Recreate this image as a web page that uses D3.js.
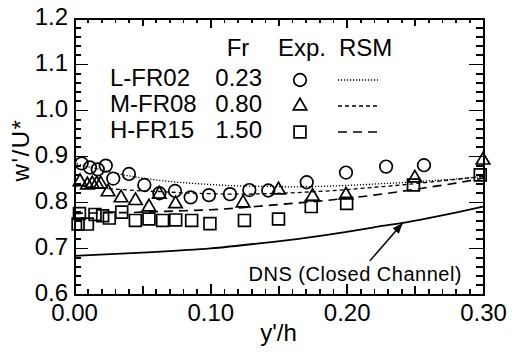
<!DOCTYPE html>
<html lang="en">
<head>
<meta charset="utf-8">
<title>w'/U* vs y'/h</title>
<script src="https://cdn.jsdelivr.net/npm/d3@7"></script>
<style>
  body { margin: 0; background: #fff; }
  svg text { font-family: "Liberation Sans", Arial, Helvetica, sans-serif; fill: #000; }
  .axis path, .axis line { stroke: #000; shape-rendering: crispEdges; }
  .axis path { stroke-width: 2; }
  .axis line { stroke-width: 1.7; }
</style>
</head>
<body>
<script>
// experimental points (Exp.)
var lfr02X = [0.0056, 0.0117, 0.0174, 0.0233, 0.0288, 0.0403, 0.0516, 0.0626, 0.0741, 0.0856, 0.099, 0.1144, 0.1286, 0.1425, 0.1707, 0.1995, 0.2289, 0.2567];
var lfr02Y = [0.884, 0.875, 0.871, 0.879, 0.851, 0.861, 0.837, 0.819, 0.824, 0.810, 0.815, 0.817, 0.826, 0.825, 0.843, 0.864, 0.877, 0.880];

var mfr08X = [0.0044, 0.0098, 0.0134, 0.0167, 0.0196, 0.025, 0.0345, 0.0451, 0.055, 0.0626, 0.0745, 0.124, 0.150, 0.175, 0.1995, 0.250, 0.300];
var mfr08Y = [0.844, 0.837, 0.839, 0.839, 0.839, 0.822, 0.809, 0.803, 0.789, 0.817, 0.796, 0.798, 0.826, 0.812, 0.815, 0.852, 0.891];

var hfr15X = [0.004, 0.003, 0.0098, 0.0154, 0.021, 0.0259, 0.035, 0.045, 0.055, 0.065, 0.0746, 0.0863, 0.0997, 0.125, 0.150, 0.174, 0.200, 0.249, 0.298];
var hfr15Y = [0.775, 0.752, 0.752, 0.773, 0.770, 0.765, 0.778, 0.760, 0.763, 0.760, 0.761, 0.760, 0.753, 0.760, 0.763, 0.790, 0.797, 0.837, 0.859];

// RSM curves
var rsmX = [0.0, 0.01, 0.02, 0.03, 0.04, 0.05, 0.06, 0.08, 0.10, 0.12, 0.14, 0.16, 0.18, 0.20, 0.22, 0.24, 0.26, 0.28, 0.30];
var rsmL = [0.885, 0.877, 0.870, 0.863, 0.857, 0.852, 0.848, 0.842, 0.838, 0.835, 0.834, 0.833, 0.834, 0.836, 0.839, 0.842, 0.846, 0.850, 0.855];
var rsmM = [0.836, 0.833, 0.830, 0.828, 0.826, 0.824, 0.823, 0.820, 0.818, 0.817, 0.818, 0.820, 0.823, 0.827, 0.832, 0.837, 0.843, 0.849, 0.856];
var rsmH = [0.775, 0.776, 0.776, 0.777, 0.777, 0.778, 0.779, 0.781, 0.783, 0.787, 0.792, 0.797, 0.802, 0.808, 0.815, 0.823, 0.832, 0.841, 0.852];

// DNS closed channel
var dnsX = [0.0, 0.05, 0.10, 0.136, 0.17, 0.20, 0.22, 0.24, 0.26, 0.28, 0.30];
var dnsY = [0.683, 0.690, 0.699, 0.710, 0.722, 0.735, 0.745, 0.754, 0.765, 0.777, 0.790];

// legend
var caseNames = ["L-FR02", "M-FR08", "H-FR15"];
var froudes = ["0.23", "0.80", "1.50"];

// ticks
var xMajor = [0.00, 0.10, 0.20, 0.30];
var xLabels = ["0.00", "0.10", "0.20", "0.30"];
var yMajor = [0.6, 0.7, 0.8, 0.9, 1.0, 1.1, 1.2];
var yLabels = ["0.6", "0.7", "0.8", "0.9", "1.0", "1.1", "1.2"];

var w = 521, h = 352;
var padL = 74, padR = 483, padT = 18, padB = 294;

var svg = d3.select("body").append("svg")
	.attr("width", w)
	.attr("height", h);

var xScale = d3.scaleLinear().domain([0, 0.3]).range([padL, padR]);
var yScale = d3.scaleLinear().domain([0.6, 1.2]).range([padB, padT]);

var xMinor = d3.range(0, 31).map(function(i) { return i / 100; });
var xMid = [0.05, 0.15, 0.25];
var yMinor = d3.range(0, 31).map(function(i) { return 0.6 + i * 0.02; });

function addAxis(axis, tx, ty) {
	return svg.append("g")
		.attr("class", "axis")
		.attr("transform", "translate(" + tx + "," + ty + ")")
		.call(axis);
}

// minor ticks (all inward)
addAxis(d3.axisBottom(xScale).tickValues(xMinor).tickSize(-5).tickFormat(""), 0, padB);
addAxis(d3.axisBottom(xScale).tickValues(xMid).tickSize(-8).tickFormat(""), 0, padB);
addAxis(d3.axisTop(xScale).tickValues(xMinor).tickSize(-5).tickFormat(""), 0, padT);
addAxis(d3.axisTop(xScale).tickValues(xMid).tickSize(-8).tickFormat(""), 0, padT);
addAxis(d3.axisTop(xScale).tickValues(xMajor).tickSize(-10).tickFormat(""), 0, padT);
addAxis(d3.axisLeft(yScale).tickValues(yMinor).tickSize(-7).tickFormat(""), padL, 0);
addAxis(d3.axisRight(yScale).tickValues(yMinor).tickSize(-7).tickFormat(""), padR, 0);
addAxis(d3.axisRight(yScale).tickValues(yMajor).tickSize(-14).tickFormat(""), padR, 0);

// labelled axes
var gx = addAxis(d3.axisBottom(xScale).tickValues(xMajor).tickSize(-10).tickPadding(10)
	.tickFormat(function(d, i) { return xLabels[i]; }), 0, padB);
var gy = addAxis(d3.axisLeft(yScale).tickValues(yMajor).tickSize(-14).tickPadding(6)
	.tickFormat(function(d, i) { return yLabels[i]; }), padL, 0);

gx.selectAll("text").style("font-size", "24px").attr("font-size", null).attr("font-family", null);
gy.selectAll("text").style("font-size", "24px").attr("font-size", null).attr("font-family", null);
gy.selectAll("text").attr("dy", "0.26em");

// curves
var line = d3.line()
	.x(function(d) { return xScale(d[0]); })
	.y(function(d) { return yScale(d[1]); })
	.curve(d3.curveMonotoneX);

function zip(xs, ys) { return xs.map(function(x, i) { return [x, ys[i]]; }); }

var styles = [
	{ ys: rsmL, dash: "1.2,1.8", width: 1.3 },
	{ ys: rsmM, dash: "4,3", width: 1.3 },
	{ ys: rsmH, dash: "9,6", width: 1.6 }
];

styles.forEach(function(s) {
	svg.append("path")
		.datum(zip(rsmX, s.ys))
		.attr("d", line)
		.attr("fill", "none")
		.attr("stroke", "#000")
		.attr("stroke-width", s.width)
		.attr("stroke-dasharray", s.dash);
});

svg.append("path")
	.datum(zip(dnsX, dnsY))
	.attr("d", line)
	.attr("fill", "none")
	.attr("stroke", "#000")
	.attr("stroke-width", 1.8);

// markers
var symbols = [d3.symbolCircle, d3.symbolTriangle, d3.symbolSquare];
var sizes = [125, 78, 140];
var seriesX = [lfr02X, mfr08X, hfr15X];
var seriesY = [lfr02Y, mfr08Y, hfr15Y];

seriesX.forEach(function(xs, k) {
	svg.append("g").selectAll("path")
		.data(zip(xs, seriesY[k]))
		.enter()
		.append("path")
		.attr("d", d3.symbol().type(symbols[k]).size(sizes[k]))
		.attr("transform", function(d) { return "translate(" + xScale(d[0]) + "," + yScale(d[1]) + ")"; })
		.attr("fill", "none")
		.attr("stroke", "#000")
		.attr("stroke-width", 1.7);
});

// legend
var legend = svg.append("g").style("font-size", "24px");
legend.append("text").attr("x", 238).attr("y", 56).attr("text-anchor", "middle").text("Fr");
legend.append("text").attr("x", 278).attr("y", 56).text("Exp.");
legend.append("text").attr("x", 339).attr("y", 56).text("RSM");

caseNames.forEach(function(name, i) {
	var yy = 80 + i * 26;
	legend.append("text").attr("x", 110).attr("y", yy + 6).text(name);
	legend.append("text").attr("x", 262).attr("y", yy + 6).attr("text-anchor", "end").text(froudes[i]);
	legend.append("path")
		.attr("d", d3.symbol().type(symbols[i]).size(sizes[i]))
		.attr("transform", "translate(300," + yy + ")")
		.attr("fill", "none")
		.attr("stroke", "#000")
		.attr("stroke-width", 1.7);
	legend.append("line")
		.attr("x1", 338).attr("x2", 378)
		.attr("y1", yy).attr("y2", yy)
		.attr("stroke", "#000")
		.attr("stroke-width", styles[i].width)
		.attr("stroke-dasharray", styles[i].dash);
});

// DNS annotation with arrow
var arrowFrom = [0.217, 0.672];
var arrowTo = [0.241, 0.754];
svg.append("defs").append("marker")
	.attr("id", "head")
	.attr("viewBox", "0 0 10 10")
	.attr("refX", 10).attr("refY", 5)
	.attr("markerWidth", 7).attr("markerHeight", 7)
	.attr("orient", "auto")
	.append("path").attr("d", "M0,1 L10,5 L0,9 Z").attr("fill", "#000");

svg.append("line")
	.attr("x1", xScale(arrowFrom[0])).attr("y1", yScale(arrowFrom[1]))
	.attr("x2", xScale(arrowTo[0])).attr("y2", yScale(arrowTo[1]))
	.attr("stroke", "#000").attr("stroke-width", 1.5)
	.attr("marker-end", "url(#head)");

svg.append("text")
	.attr("x", 462).attr("y", 281)
	.attr("text-anchor", "end")
	.style("font-size", "20px")
	.style("letter-spacing", "0.5px")
	.text("DNS (Closed Channel)");

// axis titles
svg.append("text")
	.attr("x", xScale(0.15)).attr("y", 341)
	.attr("text-anchor", "middle")
	.style("font-size", "24px")
	.text("y'/h");

svg.append("text")
	.attr("transform", "translate(29,150) rotate(-90)")
	.attr("text-anchor", "middle")
	.style("font-size", "24px")
	.style("letter-spacing", "1.5px")
	.text("w'/U*");
</script>
</body>
</html>
